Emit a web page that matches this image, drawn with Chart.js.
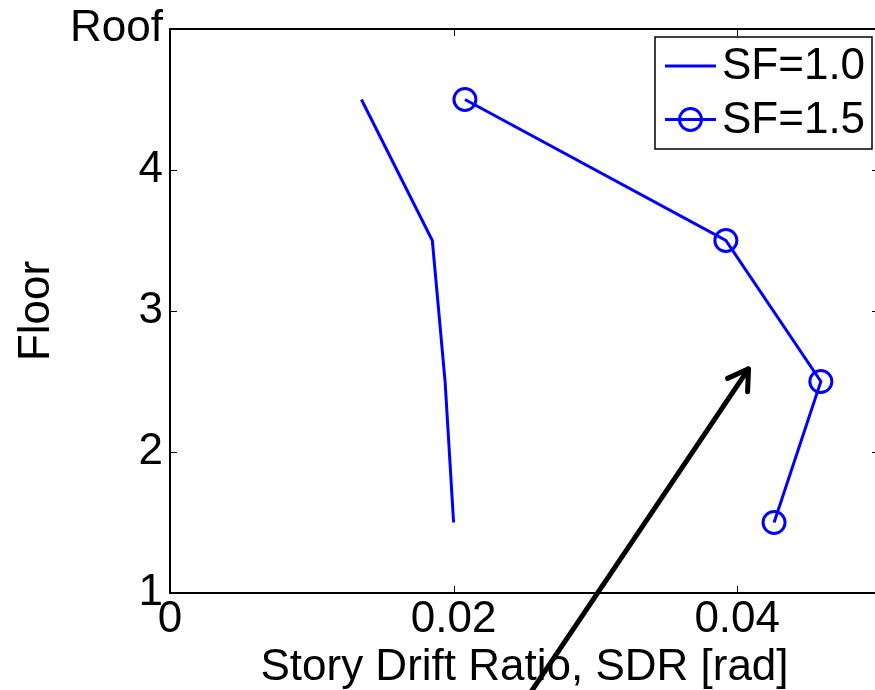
<!DOCTYPE html>
<html>
<head>
<meta charset="utf-8">
<script src="https://cdn.jsdelivr.net/npm/chart.js@4.4.0/dist/chart.umd.min.js"></script>
<style>
  html, body { margin: 0; padding: 0; background: #fff; overflow: hidden; }
</style>
</head>
<body>
<canvas id="sdrChart" width="900" height="690"></canvas>
<script>
// story mid-heights and peak story drift ratios
const floors = [4.5, 3.5, 2.5, 1.5];
const sdrSF10 = [0.0135, 0.0185, 0.0194, 0.0200];
const sdrSF15 = [0.0208, 0.0392, 0.0459, 0.0426];
const seriesNames = ['SF=1.0', 'SF=1.5'];

const xTickValues = [0, 0.02, 0.04];
const yTickValues = [1, 2, 3, 4, 5];
const yTickLabels = ['1', '2', '3', '4', 'Roof'];

// arrow annotation, in data units
const arrowTail = [0.0252, 0.26];
const arrowHead = [0.0408, 2.59];

const FONT = 'Helvetica, "Liberation Sans", Arial, sans-serif';
const BLUE = '#0000ff';

const toPoints = (xs, ys) => xs.map((v, i) => ({ x: v, y: ys[i] }));

// box, inward ticks (MATLAB style)
const axesFrame = {
  id: 'axesFrame',
  beforeDatasetsDraw(chart) {
    const { ctx, chartArea: a, scales: { x, y } } = chart;
    ctx.save();
    ctx.strokeStyle = '#000';
    ctx.lineWidth = 2;
    ctx.strokeRect(a.left, a.top, a.right - a.left, a.bottom - a.top);
    ctx.lineWidth = 1;
    ctx.beginPath();
    x.ticks.forEach(t => {
      const px = Math.round(x.getPixelForValue(t.value)) + 0.5;
      ctx.moveTo(px, a.bottom); ctx.lineTo(px, a.bottom - 7);
      ctx.moveTo(px, a.top); ctx.lineTo(px, a.top + 7);
    });
    y.ticks.forEach(t => {
      const py = Math.round(y.getPixelForValue(t.value)) + 0.5;
      ctx.moveTo(a.left, py); ctx.lineTo(a.left + 7, py);
      ctx.moveTo(a.right, py); ctx.lineTo(a.right - 7, py);
    });
    ctx.stroke();
    ctx.restore();
  }
};

// boxed legend in the upper right corner
const boxLegend = {
  id: 'boxLegend',
  afterDraw(chart) {
    const { ctx, chartArea: a } = chart;
    const w = 217, h = 112;
    const left = 655, top = a.top + 8;
    ctx.save();
    ctx.fillStyle = '#fff';
    ctx.fillRect(left, top, w, h);
    ctx.strokeStyle = '#000';
    ctx.lineWidth = 1.5;
    ctx.strokeRect(left, top, w, h);
    chart.data.datasets.forEach((ds, i) => {
      const cy = top + 29 + i * 53.5;
      ctx.strokeStyle = ds.borderColor;
      ctx.lineWidth = 3;
      ctx.beginPath();
      ctx.moveTo(left + 10, cy);
      ctx.lineTo(left + 61, cy);
      ctx.stroke();
      if (ds.pointRadius > 0) {
        ctx.beginPath();
        ctx.arc(left + 35.5, cy, ds.pointRadius, 0, Math.PI * 2);
        ctx.stroke();
      }
      ctx.fillStyle = '#000';
      ctx.font = '44px ' + FONT;
      ctx.textBaseline = 'middle';
      ctx.fillText(ds.label, left + 67, cy + 1);
    });
    ctx.restore();
  }
};

// black arrow pointing at the SF=1.5 profile
const arrowNote = {
  id: 'arrowNote',
  afterDraw(chart) {
    const { ctx, scales: { x, y } } = chart;
    const x0 = x.getPixelForValue(arrowTail[0]), y0 = y.getPixelForValue(arrowTail[1]);
    const x1 = x.getPixelForValue(arrowHead[0]), y1 = y.getPixelForValue(arrowHead[1]);
    const ang = Math.atan2(y1 - y0, x1 - x0);
    const len = 23, spread = 0.55;
    ctx.save();
    ctx.strokeStyle = '#000';
    ctx.lineWidth = 5;
    ctx.lineCap = 'round';
    ctx.lineJoin = 'round';
    ctx.beginPath();
    ctx.moveTo(x0, y0);
    ctx.lineTo(x1, y1);
    ctx.moveTo(x1 - len * Math.cos(ang - spread), y1 - len * Math.sin(ang - spread));
    ctx.lineTo(x1, y1);
    ctx.lineTo(x1 - len * Math.cos(ang + spread), y1 - len * Math.sin(ang + spread));
    ctx.stroke();
    ctx.restore();
  }
};

new Chart(document.getElementById('sdrChart'), {
  type: 'line',
  data: {
    datasets: [{
      label: seriesNames[0],
      data: toPoints(sdrSF10, floors),
      borderColor: BLUE,
      borderWidth: 3,
      pointRadius: 0,
      tension: 0
    }, {
      label: seriesNames[1],
      data: toPoints(sdrSF15, floors),
      borderColor: BLUE,
      borderWidth: 3,
      pointRadius: 11,
      pointBorderWidth: 3,
      pointBorderColor: BLUE,
      pointBackgroundColor: 'rgba(0,0,0,0)',
      tension: 0
    }]
  },
  options: {
    responsive: false,
    animation: false,
    layout: { padding: { left: 0, top: 26, right: 21, bottom: 0 } },
    plugins: {
      legend: { display: false },
      tooltip: { enabled: false }
    },
    scales: {
      x: {
        type: 'linear',
        min: 0,
        max: 0.05,
        afterFit(scale) { scale.height = 97; },
        afterBuildTicks(scale) { scale.ticks = xTickValues.map(v => ({ value: v })); },
        grid: { display: false, drawTicks: false },
        border: { display: false },
        ticks: {
          padding: 5,
          maxRotation: 0,
          autoSkip: false,
          color: '#000',
          font: { family: FONT, size: 44, lineHeight: 1 },
          callback: v => String(v)
        },
        title: {
          display: true,
          text: 'Story Drift Ratio, SDR [rad]',
          color: '#000',
          font: { family: FONT, size: 44, lineHeight: 1 },
          padding: { top: 0, bottom: 0 }
        }
      },
      y: {
        type: 'linear',
        min: 1,
        max: 5,
        afterFit(scale) { scale.width = 170; },
        afterBuildTicks(scale) { scale.ticks = yTickValues.map(v => ({ value: v })); },
        grid: { display: false, drawTicks: false },
        border: { display: false },
        ticks: {
          padding: 7,
          color: '#000',
          font: { family: FONT, size: 44, lineHeight: 1 },
          callback: (v) => yTickLabels[yTickValues.indexOf(v)]
        },
        title: {
          display: true,
          text: 'Floor',
          color: '#000',
          font: { family: FONT, size: 44, lineHeight: 1 },
          padding: { top: 15, bottom: 0 }
        }
      }
    }
  },
  plugins: [axesFrame, boxLegend, arrowNote]
});
</script>
</body>
</html>
